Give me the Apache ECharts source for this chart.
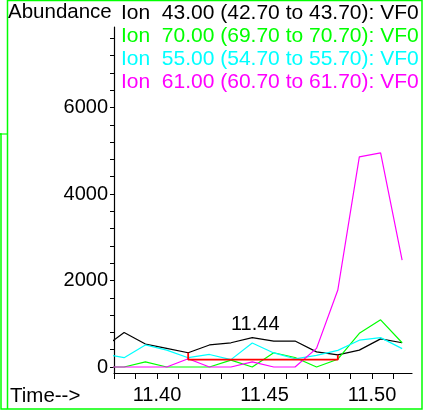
<!DOCTYPE html>
<html>
<head>
<meta charset="utf-8">
<script src="https://cdn.jsdelivr.net/npm/echarts@6/dist/echarts.min.js"></script>
<style>
html,body{margin:0;padding:0;background:#fff;}
#chart{width:425px;height:412px;}
</style>
</head>
<body>
<div id="chart"></div>
<script>
// Retention times (min); first point lies just before the visible window
var times = [11.3747, 11.3847, 11.3946, 11.4045, 11.4145, 11.4244, 11.4344, 11.4443, 11.4543, 11.4642, 11.4742, 11.4841, 11.4941, 11.5040, 11.5140];
var ion43 = [430, 800, 530, 430, 330, 510, 560, 680, 600, 600, 350, 280, 390, 650, 560];
var ion70 = [0, 0, 120, 0, 0, 0, 160, 0, 330, 220, 0, 180, 780, 1090, 560];
var ion55 = [310, 215, 510, 390, 215, 290, 170, 555, 325, 190, 270, 385, 620, 680, 425];
var ion61 = [0, 0, 0, 0, 190, 0, 0, 120, 0, 0, 430, 1780, 4860, 4950, 2470];
var seriesNames = [
  'Ion  43.00 (42.70 to 43.70): VF0',
  'Ion  70.00 (69.70 to 70.70): VF0',
  'Ion  55.00 (54.70 to 55.70): VF0',
  'Ion  61.00 (60.70 to 61.70): VF0'
];
var seriesColors = ['#000000', '#00ff00', '#00ffff', '#ff00ff'];
// Integration baseline marker (start index, end index, baseline level)
var peakStartIdx = 4, peakEndIdx = 11, baselineLevel = 170;
var peakIdx = 7, peakLabel = '11.44';
var yLabelValues = [0, 2000, 4000, 6000];
var xLabelValues = ['11.40', '11.45', '11.50'];

var FONT = 'Liberation Sans, Arial, sans-serif';
function pairs(vals) { return vals.map(function (v, i) { return [times[i], v]; }); }

var allValues = [ion43, ion70, ion55, ion61];
var series = allValues.map(function (vals, k) {
  var s = {
    name: seriesNames[k], type: 'line', xAxisIndex: 0, yAxisIndex: 0,
    data: pairs(vals), showSymbol: false, symbol: 'none', clip: true,
    lineStyle: { color: seriesColors[k], width: 1.2 }, itemStyle: { color: seriesColors[k] },
    emphasis: { disabled: true }, z: 2 + k
  };
  if (k === 0) {
    s.markPoint = {
      symbol: 'circle', symbolSize: 1, itemStyle: { color: 'rgba(0,0,0,0)' }, silent: true,
      animation: false,
      label: { show: true, position: 'top', distance: 3, offset: [3, 0], formatter: peakLabel,
               fontSize: 20, fontFamily: FONT, color: '#000' },
      data: [{ coord: [times[peakIdx], vals[peakIdx]] }]
    };
  }
  return s;
});
series.push({
  name: 'baseline', type: 'line', xAxisIndex: 0, yAxisIndex: 0, showSymbol: false, symbol: 'none',
  data: [[times[peakStartIdx], ion43[peakStartIdx]], [times[peakStartIdx], baselineLevel],
         [times[peakEndIdx], baselineLevel], [times[peakEndIdx], ion43[peakEndIdx]]],
  lineStyle: { color: '#ff0000', width: 1.8 }, emphasis: { disabled: true }, z: 10
});

var chart = echarts.init(document.getElementById('chart'), null, { renderer: 'canvas' });
chart.setOption({
  animation: false,
  backgroundColor: '#ffffff',
  textStyle: { fontFamily: FONT },
  legend: {
    orient: 'vertical', left: 116, top: 1, padding: 0, itemGap: 0.5,
    itemWidth: 0, itemHeight: 24, icon: 'none', selectedMode: false,
    textStyle: { fontSize: 21, fontFamily: FONT },
    data: seriesNames.map(function (n, k) { return { name: n, textStyle: { color: seriesColors[k] } }; })
  },
  grid: [
    { left: 114, right: 13, top: 27, bottom: 39, containLabel: false },
    { left: 114, right: 31.5, top: 38.3, bottom: 45, containLabel: false }
  ],
  xAxis: [
    { type: 'value', gridIndex: 0, min: 11.38, max: 11.5186,
      axisLine: { show: true, onZero: false, lineStyle: { color: '#000', width: 1.2 } },
      axisTick: { show: false }, axisLabel: { show: false }, splitLine: { show: false } },
    { type: 'value', gridIndex: 1, min: 11.38, max: 11.51, interval: 0.01, offset: 6,
      axisLine: { show: false, onZero: false },
      axisTick: { show: true, length: 6, lineStyle: { color: '#000', width: 1 } },
      axisLabel: { show: true, margin: 12, fontSize: 20, fontFamily: FONT, color: '#000',
        formatter: function (v) { var s = v.toFixed(2); return xLabelValues.indexOf(s) >= 0 ? s : ''; } },
      splitLine: { show: false } }
  ],
  yAxis: [
    { type: 'value', gridIndex: 0, min: -138.7, max: 7861.3,
      axisLine: { show: true, onZero: false, lineStyle: { color: '#000', width: 1.2 } },
      axisTick: { show: false }, axisLabel: { show: false }, splitLine: { show: false } },
    { type: 'value', gridIndex: 1, min: 0, max: 7600, interval: 400,
      axisLine: { show: false, onZero: false },
      axisTick: { show: true, length: 4, lineStyle: { color: '#000', width: 1 } },
      axisLabel: { show: true, margin: 6, fontSize: 20, fontFamily: FONT, color: '#000',
        formatter: function (v) { return yLabelValues.indexOf(Math.round(v)) >= 0 ? String(Math.round(v)) : ''; } },
      splitLine: { show: false } }
  ],
  graphic: [
    { type: 'rect', shape: { x: 7.5, y: 0.5, width: 414.5, height: 408.5 },
      style: { fill: null, stroke: '#00ff00', lineWidth: 1.5 }, silent: true },
    { type: 'polyline', shape: { points: [[0, 134], [1, 134], [1, 409], [7, 409]] },
      style: { fill: null, stroke: '#00ff00', lineWidth: 1.5 }, silent: true },
    { type: 'line', shape: { x1: 0, y1: 134, x2: 7, y2: 134 },
      style: { stroke: '#00ff00', lineWidth: 1.2 }, silent: true },
    { type: 'text', left: 8, top: 2,
      style: { text: 'Abundance', fontSize: 20.5, fontFamily: FONT, fill: '#000' } },
    { type: 'text', left: 10, top: 386,
      style: { text: 'Time-->', fontSize: 20.5, fontFamily: FONT, fill: '#000' } }
  ],
  series: series
});
</script>
</body>
</html>
